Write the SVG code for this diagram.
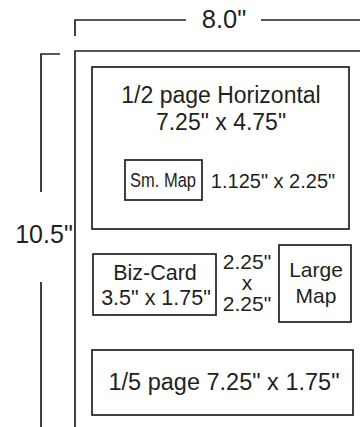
<svg xmlns="http://www.w3.org/2000/svg" width="360" height="427" viewBox="0 0 360 427">
<style>
.ln{fill:none;stroke:#231f20;stroke-width:1.7}
.bx{fill:#fff;stroke:#231f20;stroke-width:1.7}
text{font-family:"Liberation Sans",Arial,sans-serif;fill:#231f20;text-anchor:middle}
</style>
<rect width="360" height="427" fill="#fff"/>
<g id="connectors">
<path class="ln" d="M75,36 V20 H186 M261,20 H360"/>
<path class="ln" d="M60,54 H41 V192 M41,282 V427"/>
</g>
<g id="dim-width"><text x="224" y="28" font-size="25.5">8.0"</text></g>
<g id="dim-height"><text x="44" y="243" font-size="25">10.5"</text></g>
<g id="page"><path class="ln" d="M75,427 V51 H360"/></g>
<g id="half-page">
<rect class="bx" x="92" y="67" width="257" height="162"/>
<text x="221" y="103" font-size="23">1/2 page Horizontal</text>
<text x="221" y="130" font-size="23">7.25" x 4.75"</text>
</g>
<g id="sm-map">
<rect class="bx" x="125" y="160" width="77" height="40"/>
<text x="163" y="187" font-size="20.5" textLength="66" lengthAdjust="spacingAndGlyphs">Sm. Map</text>
<text x="273" y="188" font-size="20">1.125" x 2.25"</text>
</g>
<g id="biz-card">
<rect class="bx" x="93" y="254" width="123" height="61"/>
<text x="155" y="280" font-size="21.5">Biz-Card</text>
<text x="156" y="305" font-size="21.5">3.5" x 1.75"</text>
</g>
<g id="large-map-size">
<text x="247" y="269" font-size="21">2.25"</text>
<text x="247" y="290" font-size="21">x</text>
<text x="247" y="311" font-size="21">2.25"</text>
</g>
<g id="large-map">
<rect class="bx" x="279" y="245" width="72" height="77"/>
<text x="316" y="277" font-size="21">Large</text>
<text x="316" y="303" font-size="21">Map</text>
</g>
<g id="fifth-page">
<rect class="bx" x="92" y="350" width="261" height="65"/>
<text x="224" y="390" font-size="23.5">1/5 page 7.25" x 1.75"</text>
</g>
</svg>
